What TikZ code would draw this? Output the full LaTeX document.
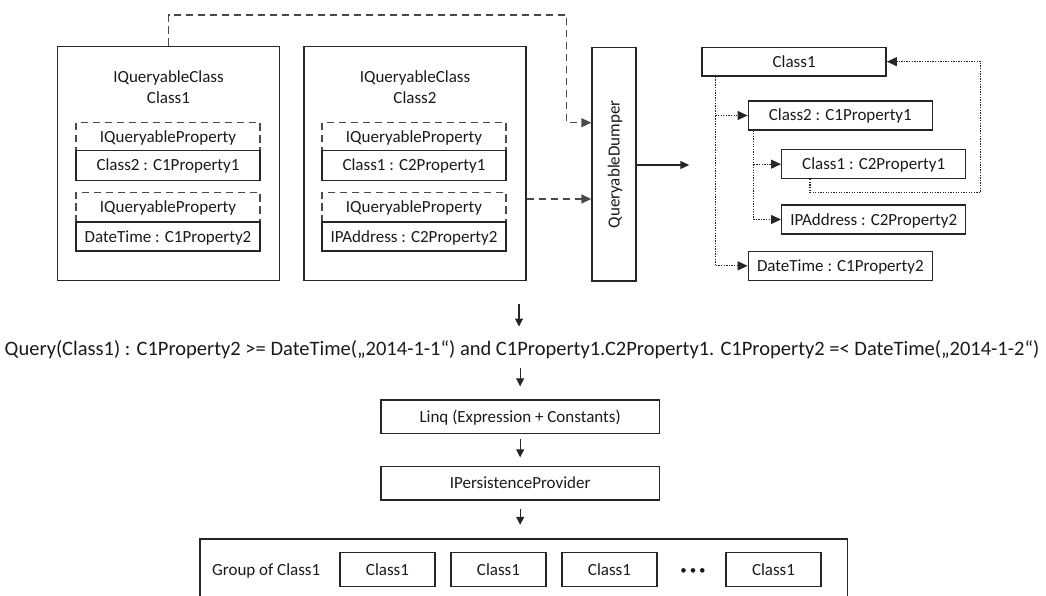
\documentclass[tikz,border=0pt]{standalone}
\usepackage{fontspec}
\setmainfont{Carlito}
\usetikzlibrary{arrows.meta}
\definecolor{ink}{HTML}{1A1A1A}
\definecolor{edgec}{HTML}{262626}
\definecolor{dashc}{HTML}{4A4A4A}
\begin{document}
\begin{tikzpicture}[x=1pt,y=-1pt,
  every node/.style={font=\fontsize{17}{21}\selectfont, text=ink, inner sep=0pt,
    text height=11pt, text depth=0pt},
  frame/.style={draw=edgec, line width=1.4pt},
  clsbox/.style={frame, minimum width=222pt, minimum height=234pt},
  propdash/.style={draw=dashc, line width=1.4pt, dash pattern=on 7.5pt off 4.5pt,
    minimum width=184pt, minimum height=#1},
  propbox/.style={frame, minimum width=184pt, minimum height=#1},
  treebox/.style={frame, minimum width=184pt, minimum height=28.7pt},
  flowbox/.style={frame, minimum width=278.3pt, minimum height=33.3pt},
  itembox/.style={frame, minimum width=95pt, minimum height=34pt},
  dashlink/.style={draw=dashc, line width=1.4pt, dash pattern=on 7.5pt off 4.5pt,
    -{Triangle[length=10pt,width=9pt]}},
  dotlink/.style={draw=edgec, line width=1.1pt, dash pattern=on 1.3pt off 1.3pt,
    -{Triangle[length=10pt,width=9pt]}},
  solidlink/.style={draw=edgec, line width=1.1pt, -{Triangle[length=9pt,width=8pt]}},
  flowlink/.style={draw=edgec, line width=1.1pt, -{Triangle[length=8pt,width=8pt]}},
]
\useasboundingbox (0,0) rectangle (1046,596);

% --- queryable classes -------------------------------------------------
\node[clsbox] (cls1) at (168.5,163.7) {};
\node (cls1a) at (168.5,77.3) {IQueryableClass};
\node (cls1b) at (168.5,98.3) {Class1};
\node[propdash=28pt]   (c1p1d) at (168,136.7)  {IQueryableProperty};
\node[propbox=29.6pt]  (c1p1)  at (168,165.5)  {Class2 : C1Property1};
\node[propdash=29.3pt] (c1p2d) at (168,207.35) {IQueryableProperty};
\node[propbox=29pt]    (c1p2)  at (168,236.5)  {DateTime : C1Property2};

\node[clsbox] (cls2) at (415,163.7) {};
\node (cls2a) at (415,77.3) {IQueryableClass};
\node (cls2b) at (415,98.3) {Class2};
\node[propdash=28pt]   (c2p1d) at (414,136.7)  {IQueryableProperty};
\node[propbox=29.6pt]  (c2p1)  at (414,165.5)  {Class1 : C2Property1};
\node[propdash=29.3pt] (c2p2d) at (414,207.35) {IQueryableProperty};
\node[propbox=29pt]    (c2p2)  at (414,236.5)  {IPAddress : C2Property2};

% --- dumper --------------------------------------------------------------
\node[frame, minimum width=44pt, minimum height=233.3pt] (dump) at (614,164.35) {};
\node[rotate=90] (dumpt) at (dump.center) {QueryableDumper};

\draw[dashlink] (cls1.north) -- (cls1.north |- 0,15) -| (566.7,122.7)
  -- (dump.west |- 0,122.7);
\draw[dashlink] (cls2.east |- 0,199) -- (dump.west |- 0,199);

\coordinate (treein) at (689.3,165);
\draw[solidlink] (dump.east |- treein) -- (treein);

% --- dumped object tree --------------------------------------------------
\node[treebox] (tc1) at (794.15,61.65) {Class1};
\node[treebox] (tc2) at (840.3,115.5)  {Class2 : C1Property1};
\node[treebox] (tc3) at (873.7,164.15) {Class1 : C2Property1};
\node[treebox] (tip) at (873.7,219.5)  {IPAddress : C2Property2};
\node[treebox] (tdt) at (840.3,265.85) {DateTime : C1Property2};

\draw[dotlink] ([xshift=13.7pt]tc1.south west) |- (tc2.west);
\draw[dotlink] ([xshift=13.7pt]tc1.south west) |- (tdt.west);
\draw[dotlink] ([xshift=6pt]tc2.south west) |- (tc3.west);
\draw[dotlink] ([xshift=6pt]tc2.south west) |- (tip.west);
\draw[dotlink] ([xshift=29pt]tc3.south west) |- (980.7,192.3) |- (tc1.east);

% --- query pipeline ------------------------------------------------------
\coordinate (qin) at (519,304);
\node[font=\fontsize{20.5}{24}\selectfont, text height=13.2pt] (query) at (522,349)
  {Query(Class1) : C1Property2 >= DateTime(„2014-1-1“) and C1Property1.C2Property1. C1Property2 =< DateTime(„2014-1-2“)};
\draw[flowlink, shorten >=15.7pt] (qin) -- (qin |- query.north);

\node[flowbox] (linq) at (520.15,416.65) {Linq (Expression + Constants)};
\node[flowbox] (ipp)  at (520.15,483.35) {IPersistenceProvider};
\draw[flowlink, shorten <=12.4pt, shorten >=13pt] (linq.north |- query.south) -- (linq.north);
\draw[flowlink, shorten <=4.7pt, shorten >=8.7pt] (linq.south) -- (ipp.north);

% --- result group ----------------------------------------------------------
\node[minimum width=647pt, minimum height=56.7pt] (grp) at (523.5,567.65) {};
\draw[frame] (grp.south west) |- (grp.north east) -- (grp.south east);
\draw[flowlink, shorten <=8pt, shorten >=14.3pt] (ipp.south) -- (ipp.south |- grp.north);

\node[anchor=west] (grpt) at (212,570) {Group of Class1};
\node[itembox] (g1) at (387.5,569.7) {Class1};
\node[itembox] (g2) at (498.5,569.7) {Class1};
\node[itembox] (g3) at (609.5,569.7) {Class1};
\node[font=\fontsize{13}{13}\selectfont, text height=4pt] (gdots) at (693,572) {• • •};
\node[itembox] (g4) at (773.5,569.7) {Class1};
\end{tikzpicture}
\end{document}
